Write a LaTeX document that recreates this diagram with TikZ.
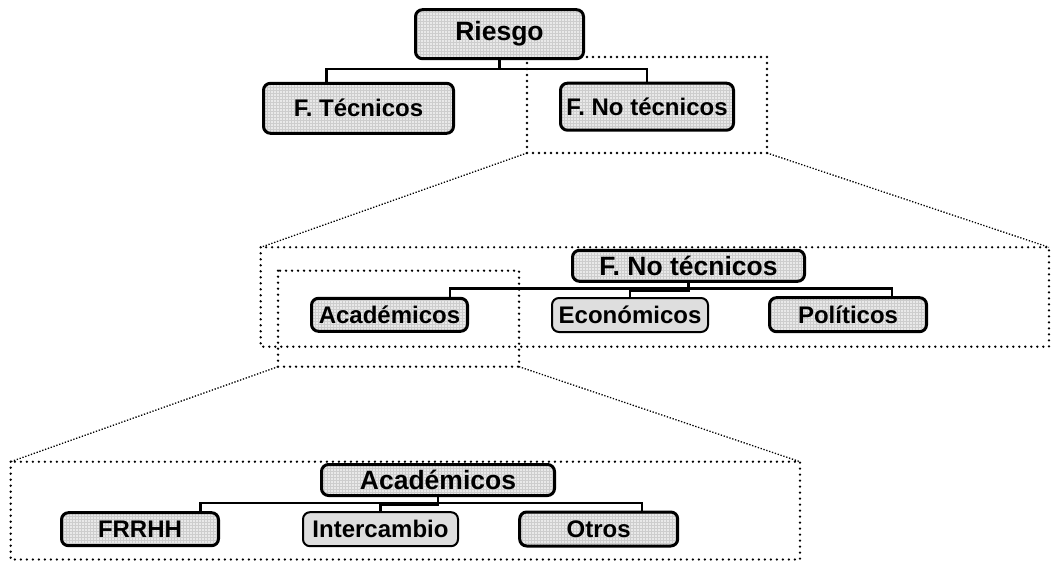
\documentclass[tikz,border=0pt]{standalone}
\usepackage{fontspec}
\setmainfont{Liberation Sans}
\usetikzlibrary{patterns}
\definecolor{boxgray}{RGB}{233,233,233}
\definecolor{gridgray}{RGB}{205,205,205}
\definecolor{flatgray}{RGB}{222,222,222}
\newcommand{\Head}[1]{\fontsize{26.5}{28}\selectfont\bfseries #1}
\tikzset{
  boxbase/.style={draw, line width=3pt, rounded corners=7pt, inner sep=0pt,
    font=\fontsize{24}{26}\selectfont\bfseries},
  box/.style={boxbase, preaction={fill=boxgray}, pattern=grid, pattern color=gridgray},
  flatbox/.style={boxbase, line width=2pt, fill=flatgray},
  conn/.style={line width=2.3pt},
  zoomframe/.style={line width=1.3pt, dash pattern=on 1.3pt off 1.7pt},
  bigframe/.style={line width=2.6pt, dash pattern=on 0pt off 6pt, line cap=round}
}
\begin{document}
\begin{tikzpicture}[x=1pt,y=-1pt]
    \useasboundingbox (0,0) rectangle (1051,561);
    % frames and zoom lines
    \path 
        (527,57) coordinate (zA) rectangle (767,153) coordinate (zB) [draw,zoomframe]
        (260.7,247.3) coordinate (mA) rectangle (1049,346.7) coordinate (mB) [draw,bigframe]
        (278,270.7) coordinate (zC) rectangle (519,366.7) coordinate (zD) [draw,zoomframe]
        (10.7,461.7) coordinate (lA) rectangle (800,559.5) coordinate (lB) [draw,bigframe];
    \draw[zoomframe] (zA |- zB) -- (mA);
    \draw[zoomframe] (zB) -- (mB |- mA);
    \draw[zoomframe] (zC |- zD) -- (lA);
    \draw[zoomframe] (zD) -- (lB |- lA);
    % top level
    \node[box, minimum width=168pt, minimum height=49pt] (riesgo) at (499.5,34.2) {\Head{Riesgo}};
    \node[box, minimum width=190pt, minimum height=50pt] (ftec) at (358.5,108.3) {F. Técnicos};
    \node[box, minimum width=173pt, minimum height=47pt] (fnt) at (647,106.7) {F. No técnicos};
    % middle level
    \node[box, minimum width=232pt, minimum height=31pt] (fnt2) at (688.5,265.8) {\Head{F. No técnicos}};
    \node[box, minimum width=156pt, minimum height=33pt] (acad) at (389.5,314.8) {Académicos};
    \node[flatbox, minimum width=156pt, minimum height=34pt] (eco) at (630,315) {Económicos};
    \node[box, minimum width=157pt, minimum height=34pt] (pol) at (848,314.7) {Políticos};
    % lower level
    \node[box, minimum width=233pt, minimum height=31pt] (acad2) at (438,480) {\Head{Académicos}};
    \node[box, minimum width=157pt, minimum height=33pt] (frrhh) at (140,529.2) {FRRHH};
    \node[flatbox, minimum width=155pt, minimum height=34pt] (inter) at (380.5,529.2) {Intercambio};
    \node[box, minimum width=158pt, minimum height=34pt] (otros) at (598.7,529) {Otros};
    % connectors
    \draw[conn] (riesgo.south) -- ++(0,9) -| ([xshift=64.5pt]ftec.north west);
    \draw[conn] (riesgo.south) -- ++(0,9) -| (fnt.north);
    \draw[conn] (fnt2.south) -- ++(0,5.6) -| ([xshift=-19.2pt]acad.north east);
    \draw[conn] (fnt2.south) -- ++(0,5.6) -| ([xshift=-35.8pt]pol.north east);
    \draw[conn] (fnt2.south) -- ++(0,8) -| (eco.north);
    \draw[conn] (acad2.south) -- ++(0,5.8) -| ([xshift=-19.5pt]frrhh.north east);
    \draw[conn] (acad2.south) -- ++(0,5.8) -| ([xshift=-37.5pt]otros.north east);
    \draw[conn] (acad2.south) -- ++(0,8) -| (inter.north);
\end{tikzpicture}
\end{document}
